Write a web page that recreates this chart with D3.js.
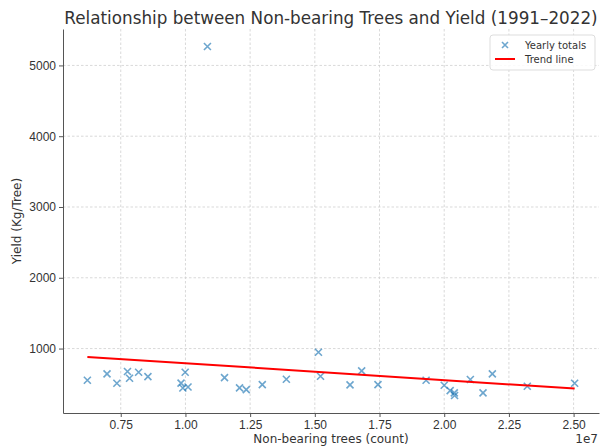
<!DOCTYPE html>
<html>
<head>
<meta charset="utf-8">
<script src="https://cdn.jsdelivr.net/npm/d3@7"></script>
<style>
  body { margin: 0; background: #fff; }
  svg { font-family: "DejaVu Sans", sans-serif; }
  .grid line { stroke: #cfcfcf; stroke-dasharray: 2.5,2; stroke-width: 0.8; }
  .axis path, .axis line { stroke: #555; }
  .axis text { fill: #333; font-size: 12px; }
</style>
</head>
<body>
<svg id="chart" width="601" height="448"></svg>
<script>
// non-bearing trees (count) per year, 1991-2022, and yield (kg/tree)
const trees = [6.21e6, 6.97e6, 7.35e6, 7.76e6, 7.84e6, 8.19e6, 8.55e6, 9.83e6,
    9.90e6, 10.10e6, 9.99e6, 10.85e6, 11.51e6, 12.09e6, 12.35e6, 12.97e6,
    13.90e6, 15.14e6, 15.22e6, 16.36e6, 16.81e6, 17.44e6, 19.30e6, 20.00e6,
    20.23e6, 20.39e6, 20.40e6, 21.01e6, 21.50e6, 21.86e6, 23.21e6, 25.04e6];
const yieldKg = [552, 642, 510, 675, 580, 665, 604, 512,
    442, 456, 665, 5268, 590, 445, 420, 491,
    566, 948, 608, 487, 685, 491, 552, 481,
    406, 374, 336, 562, 374, 642, 467, 510];
const xTicks = [0.75e7, 1.00e7, 1.25e7, 1.50e7, 1.75e7, 2.00e7, 2.25e7, 2.50e7];
const yTicks = [1000, 2000, 3000, 4000, 5000];

const svg = d3.select("#chart");
const margin = {left: 63, right: 2, top: 29, bottom: 35};
const width = 601 - margin.left - margin.right;
const height = 448 - margin.top - margin.bottom;

const xExt = d3.extent(trees), yExt = d3.extent(yieldKg);
const xPad = (xExt[1] - xExt[0]) * 0.05, yPad = (yExt[1] - yExt[0]) * 0.05;

const x = d3.scaleLinear()
    .domain([xExt[0] - xPad, xExt[1] + xPad])
    .range([margin.left, margin.left + width]);
const y = d3.scaleLinear()
    .domain([yExt[0] - yPad, yExt[1] + yPad])
    .range([margin.top + height, margin.top]);

// grid
svg.append("g").attr("class", "grid")
    .selectAll("line").data(xTicks).join("line")
        .attr("x1", d => x(d)).attr("x2", d => x(d))
        .attr("y1", margin.top).attr("y2", margin.top + height);
svg.append("g").attr("class", "grid")
    .selectAll("line").data(yTicks).join("line")
        .attr("x1", margin.left).attr("x2", margin.left + width)
        .attr("y1", d => y(d)).attr("y2", d => y(d));

// axes
svg.append("g")
        .attr("class", "axis")
        .attr("transform", `translate(0,${margin.top + height})`)
    .call(d3.axisBottom(x).tickValues(xTicks).tickSize(4).tickPadding(3)
        .tickFormat(d => (d / 1e7).toFixed(2)).tickSizeOuter(0));
svg.append("g")
        .attr("class", "axis")
        .attr("transform", `translate(${margin.left},0)`)
    .call(d3.axisLeft(y).tickValues(yTicks).tickSize(4).tickPadding(3)
        .tickFormat(d3.format("d")).tickSizeOuter(0));

// trend line (least squares)
const mx = d3.mean(trees), my = d3.mean(yieldKg);
let sxy = 0, sxx = 0;
trees.forEach((t, i) => {
    sxy += (t - mx) * (yieldKg[i] - my);
    sxx += (t - mx) * (t - mx);
});
const slope = sxy / sxx, intercept = my - slope * mx;
const trendX = [xExt[0], xExt[1]];

// points
const s = 3.5;
svg.append("g")
    .selectAll("path").data(trees).join("path")
        .attr("d", (t, i) => {
            let cx = x(t), cy = y(yieldKg[i]);
            return `M${cx - s},${cy - s}L${cx + s},${cy + s}M${cx - s},${cy + s}L${cx + s},${cy - s}`;
        })
        .attr("stroke", "#1f77b4")
        .attr("stroke-opacity", 0.65)
        .attr("stroke-width", 1.6)
        .attr("fill", "none");

svg.append("path")
    .datum(trendX)
    .attr("d", d3.line().x(d => x(d)).y(d => y(slope * d + intercept)))
    .attr("stroke", "#ff0000")
    .attr("stroke-width", 2)
    .attr("fill", "none");

// labels
svg.append("text")
    .attr("x", margin.left + width / 2).attr("y", 24)
    .attr("text-anchor", "middle").attr("font-size", "16.8px").attr("fill", "#333")
    .text("Relationship between Non-bearing Trees and Yield (1991–2022)");
svg.append("text")
    .attr("x", margin.left + width / 2).attr("y", 443)
    .attr("text-anchor", "middle").attr("font-size", "12px").attr("fill", "#333")
    .text("Non-bearing trees (count)");
svg.append("text")
    .attr("transform", `translate(21,${margin.top + height / 2}) rotate(-90)`)
    .attr("text-anchor", "middle").attr("font-size", "12px").attr("fill", "#333")
    .text("Yield (Kg/Tree)");
svg.append("text")
    .attr("x", margin.left + width - 1).attr("y", 443)
    .attr("text-anchor", "end").attr("font-size", "12px").attr("fill", "#333")
    .text("1e7");

// legend
const legend = svg.append("g").attr("transform", "translate(490,35)");
legend.append("rect")
    .attr("width", 105).attr("height", 35).attr("rx", 3)
    .attr("fill", "#fff").attr("fill-opacity", 0.85)
    .attr("stroke", "#ddd");
legend.append("path")
    .attr("d", `M${15 - 3},${10 - 3}L${15 + 3},${10 + 3}M${15 - 3},${10 + 3}L${15 + 3},${10 - 3}`)
    .attr("stroke", "#1f77b4").attr("stroke-opacity", 0.65).attr("stroke-width", 1.6);
legend.append("line")
    .attr("x1", 5).attr("x2", 25).attr("y1", 24).attr("y2", 24)
    .attr("stroke", "#ff0000").attr("stroke-width", 2);
legend.append("text").attr("x", 35).attr("y", 13.5)
    .attr("font-size", "10px").attr("fill", "#333").text("Yearly totals");
legend.append("text").attr("x", 35).attr("y", 28)
    .attr("font-size", "10px").attr("fill", "#333").text("Trend line");
</script>
</body>
</html>
